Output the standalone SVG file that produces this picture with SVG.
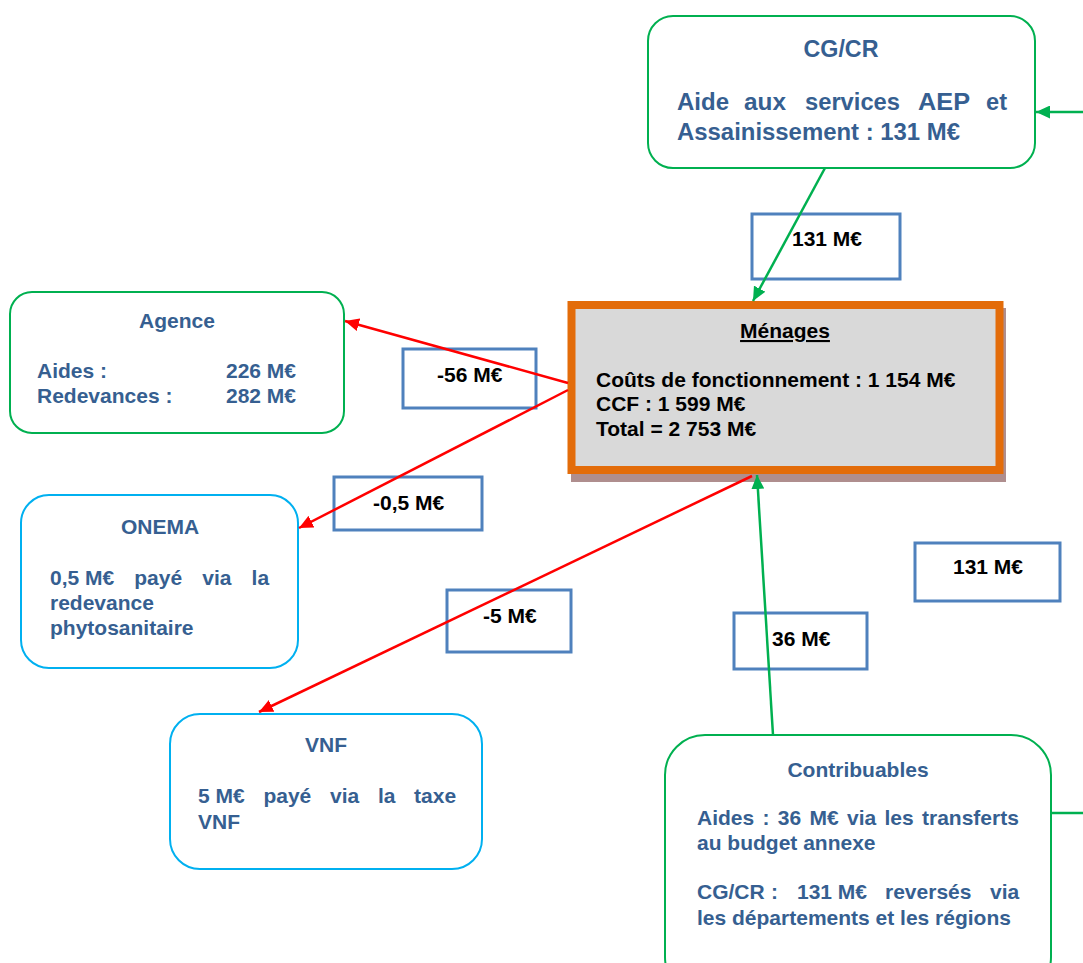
<svg xmlns="http://www.w3.org/2000/svg" width="1083" height="963" viewBox="0 0 1083 963">
<style>
text{font-family:"Liberation Sans",Arial,sans-serif;font-weight:bold;font-size:21px}
.b{fill:#365F91}
.k{fill:#000}
.c{text-anchor:middle}
.big{font-size:23px}
.green{fill:#fff;stroke:#00B050;stroke-width:2}
.cyan{fill:#fff;stroke:#00B0F0;stroke-width:2}
.lab{fill:none;stroke:#4F81BD;stroke-width:3}
.gl{stroke:#00B050;stroke-width:2.5;fill:none}
.rl{stroke:#FF0000;stroke-width:2.5;fill:none}
</style>
<defs>
<marker id="ag" markerUnits="userSpaceOnUse" markerWidth="15" markerHeight="13" refX="14" refY="6.5" orient="auto"><path d="M0,0 L14,6.5 L0,13 z" fill="#00B050"/></marker>
<marker id="ar" markerUnits="userSpaceOnUse" markerWidth="15" markerHeight="13" refX="14" refY="6.5" orient="auto"><path d="M0,0 L14,6.5 L0,13 z" fill="#FF0000"/></marker>
</defs>
<rect width="1083" height="963" fill="#fff"/>

<g id="labels">
<g id="lab-131-top"><rect class="lab" x="752" y="214" width="148" height="65"/><text class="k" x="792" y="246">131 M€</text></g>
<g id="lab-56"><rect class="lab" x="403" y="349" width="133" height="59"/><text class="k" x="437" y="382">-56 M€</text></g>
<g id="lab-05"><rect class="lab" x="334" y="477" width="148" height="53"/><text class="k" x="373" y="510">-0,5 M€</text></g>
<g id="lab-5"><rect class="lab" x="447" y="590" width="124" height="62"/><text class="k" x="483" y="623">-5 M€</text></g>
<g id="lab-36"><rect class="lab" x="734" y="613" width="133" height="56"/><text class="k" x="772" y="646">36 M€</text></g>
<g id="lab-131-right"><rect class="lab" x="915" y="543" width="145" height="58"/><text class="k" x="953" y="574">131 M€</text></g>
</g>

<g id="cgcr">
<rect class="green" x="648" y="16" width="387" height="152" rx="25"/>
<text class="b big" x="803.5" y="57" textLength="75" lengthAdjust="spacingAndGlyphs">CG/CR</text>
<text class="b big" x="677" y="110" textLength="52" lengthAdjust="spacingAndGlyphs">Aide</text>
<text class="b big" x="744" y="110" textLength="42" lengthAdjust="spacingAndGlyphs">aux</text>
<text class="b big" x="805" y="110" textLength="95" lengthAdjust="spacingAndGlyphs">services</text>
<text class="b big" x="918" y="110" textLength="52" lengthAdjust="spacingAndGlyphs">AEP</text>
<text class="b big" x="986" y="110" textLength="21" lengthAdjust="spacingAndGlyphs">et</text>
<text class="b big" x="677" y="140" textLength="283" lengthAdjust="spacingAndGlyphs">Assainissement : 131 M€</text>
</g>

<g id="menages">
<rect x="571" y="308" width="435" height="174" fill="#AF8E8E"/>
<rect x="571.5" y="305" width="428" height="165" fill="#D9D9D9" stroke="#E36C0A" stroke-width="8"/>
<text class="k c" x="785" y="338" text-decoration="underline">Ménages</text>
<text class="k" x="596" y="387">Coûts de fonctionnement : 1 154 M€</text>
<text class="k" x="596" y="411">CCF : 1 599 M€</text>
<text class="k" x="596" y="436">Total = 2 753 M€</text>
</g>

<g id="agence">
<rect class="green" x="10" y="292" width="334" height="141" rx="22"/>
<text class="b c" x="177" y="328">Agence</text>
<text class="b" x="37" y="378">Aides :</text>
<text class="b" x="226" y="378">226 M€</text>
<text class="b" x="37" y="403">Redevances :</text>
<text class="b" x="226" y="403">282 M€</text>
</g>

<g id="onema">
<rect class="cyan" x="21" y="495" width="277" height="173" rx="28"/>
<text class="b c" x="160" y="534">ONEMA</text>
<text class="b" y="585"><tspan x="50">0,5 M€</tspan><tspan x="134.3">payé</tspan><tspan x="202.3">via</tspan><tspan x="251.6">la</tspan></text>
<text class="b" x="50" y="610">redevance</text>
<text class="b" x="50" y="635">phytosanitaire</text>
</g>

<g id="vnf">
<rect class="cyan" x="170" y="714" width="312" height="155" rx="30"/>
<text class="b c" x="326" y="752">VNF</text>
<text class="b" y="803"><tspan x="198">5 M€</tspan><tspan x="263.4">payé</tspan><tspan x="330">via</tspan><tspan x="377.9">la</tspan><tspan x="414.1">taxe</tspan></text>
<text class="b" x="198" y="829">VNF</text>
</g>

<g id="contribuables">
<rect class="green" x="665" y="735" width="386" height="262" rx="40"/>
<text class="b c" x="858" y="777">Contribuables</text>
<text class="b" y="825"><tspan x="697">Aides</tspan><tspan x="762.5">:</tspan><tspan x="777.8">36</tspan><tspan x="809.5">M€</tspan><tspan x="847">via</tspan><tspan x="884.5">les</tspan><tspan x="922">transferts</tspan></text>
<text class="b" x="697" y="850">au budget annexe</text>
<text class="b" y="899"><tspan x="697">CG/CR</tspan><tspan x="771">:</tspan><tspan x="797">131 M€</tspan><tspan x="885">reversés</tspan><tspan x="990">via</tspan></text>
<text class="b" x="697" y="925">les départements et les régions</text>
</g>

<g id="connectors">
<line class="gl" x1="825" y1="168" x2="753" y2="301" marker-end="url(#ag)"/>
<line class="gl" x1="773" y1="735" x2="757" y2="475" marker-end="url(#ag)"/>
<line class="gl" x1="1083" y1="112" x2="1036" y2="112" marker-end="url(#ag)"/>
<line class="gl" x1="1051" y1="813" x2="1083" y2="813"/>
<line class="rl" x1="568" y1="383" x2="345" y2="321" marker-end="url(#ar)"/>
<line class="rl" x1="568" y1="390" x2="299" y2="528" marker-end="url(#ar)"/>
<line class="rl" x1="752" y1="476" x2="259" y2="712" marker-end="url(#ar)"/>
</g>
</svg>
